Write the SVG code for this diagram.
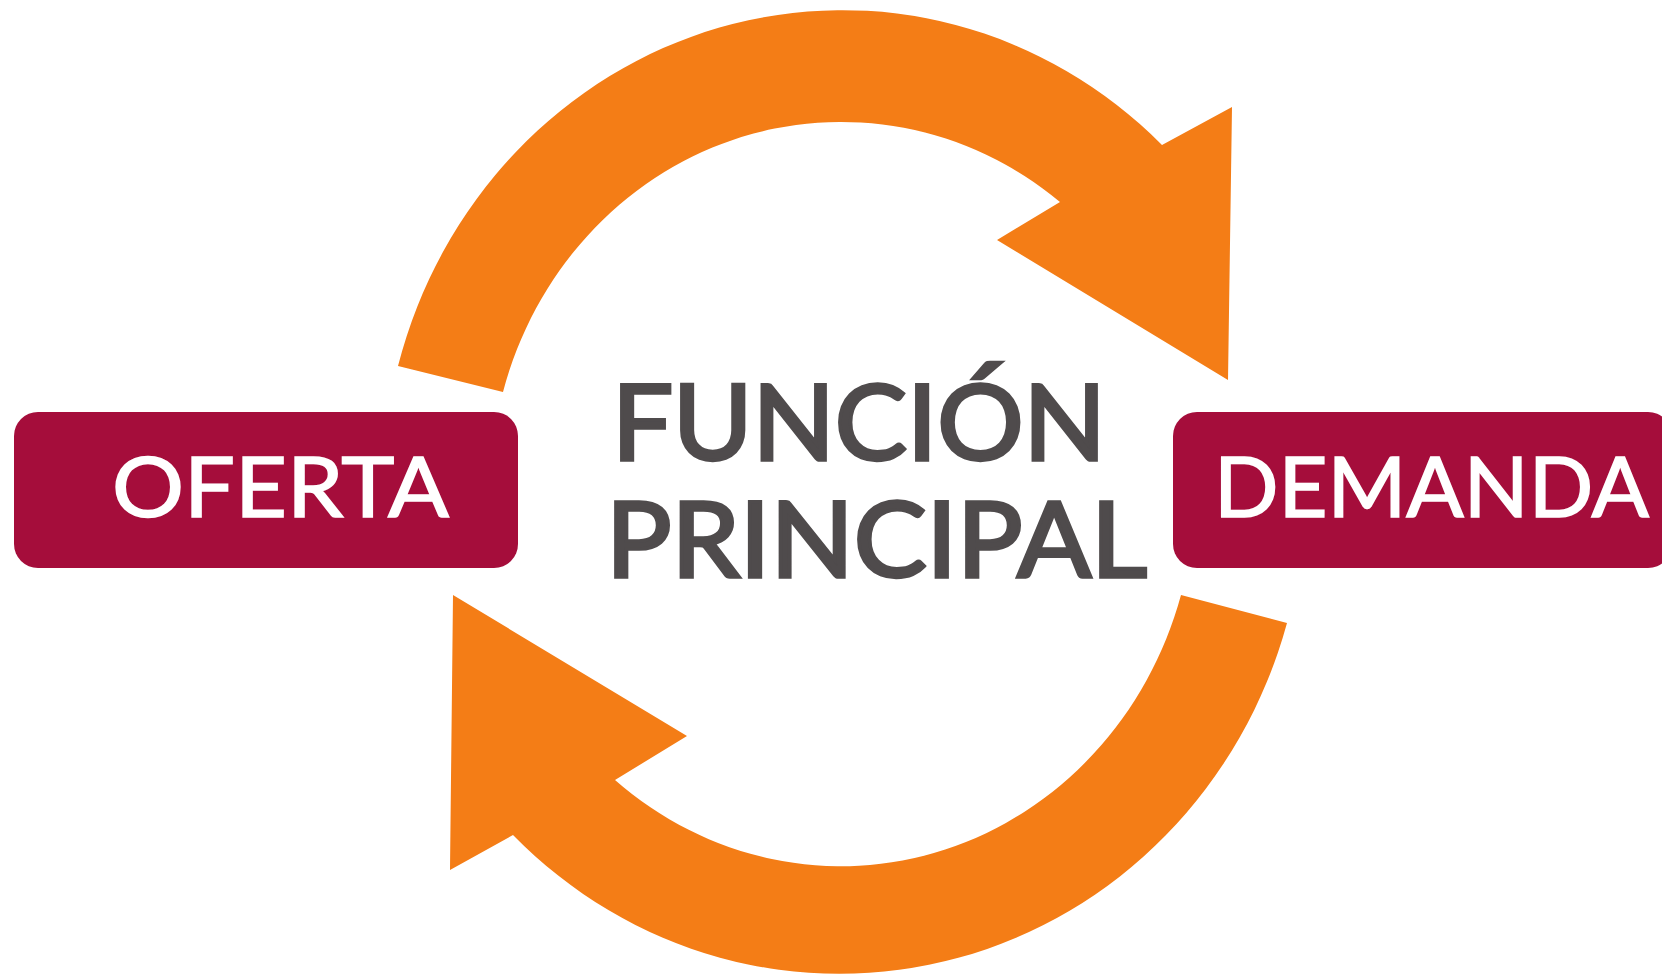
<svg xmlns="http://www.w3.org/2000/svg" width="1662" height="974" viewBox="0 0 1662 974">
  <style>
    .arrow { fill: #f47d16; }
    .box { fill: #a50d3b; }
    .boxtxt { font-family: Lato, "Open Sans", "Liberation Sans", sans-serif; font-size: 84px; fill: #ffffff; stroke: #ffffff; stroke-width: 1.6px; font-weight: 400; }
    .maintxt { font-family: Lato, "Open Sans", "Liberation Sans", sans-serif; font-size: 104px; fill: #4f4b4c; stroke: #4f4b4c; stroke-width: 3.5px; font-weight: 400; }
  </style>
  <rect x="0" y="0" width="1662" height="974" fill="#ffffff"/>
  <g id="connectors">
    <path id="arrow-top" class="arrow" d="M 398 366 A 460 480 0 0 1 1162 145 L 1232 107 L 1228 380 L 997 240 L 1060 202 A 351 368 0 0 0 503 392 Z"/>
    <path id="arrow-bottom" class="arrow" d="M 1287 623 A 465 482 0 0 1 513 835 L 450 870 L 453 595 L 687 736 L 615 780 A 354 375 0 0 0 1181 595 Z"/>
  </g>
  <g id="oferta">
    <rect class="box" x="14" y="412" width="504" height="156" rx="24" ry="24"/>
    <text class="boxtxt" x="112" y="517" textLength="337" lengthAdjust="spacingAndGlyphs">OFERTA</text>
  </g>
  <g id="demanda">
    <rect class="box" x="1173" y="412" width="499" height="156" rx="24" ry="24"/>
    <text class="boxtxt" x="1214" y="517" textLength="435" lengthAdjust="spacingAndGlyphs">DEMANDA</text>
  </g>
  <g id="funcion-principal">
    <text class="maintxt" x="612" y="460" textLength="494" lengthAdjust="spacingAndGlyphs">FUNCIÓN</text>
    <text class="maintxt" x="606" y="577" textLength="541" lengthAdjust="spacingAndGlyphs">PRINCIPAL</text>
  </g>
</svg>
